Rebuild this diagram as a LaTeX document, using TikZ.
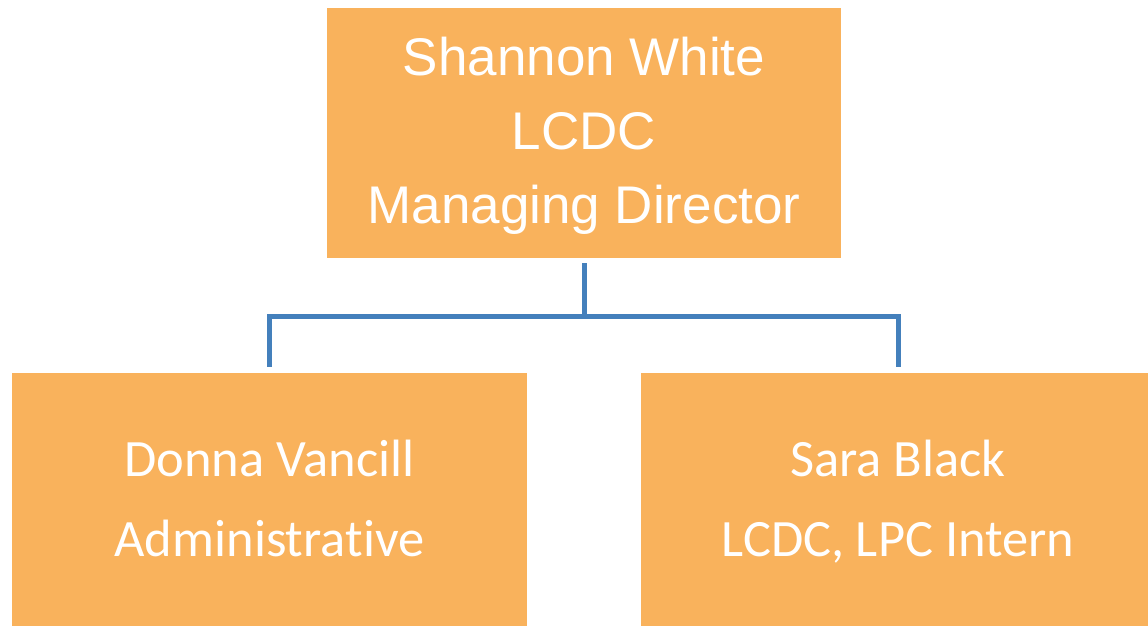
\documentclass[tikz,border=0pt]{standalone}
\usepackage{fontspec}
\setmainfont{Liberation Sans}
\newfontfamily\calib[Ligatures=NoCommon,RawFeature=-liga]{Carlito}
\definecolor{boxorange}{RGB}{249,178,92}
\definecolor{linkblue}{RGB}{68,128,188}
\tikzset{
  orgbox/.style={fill=boxorange, draw=none, text=white, align=center, inner sep=0pt},
  topbox/.style={orgbox, minimum width=514pt, minimum height=250pt, font=\fontsize{53}{74}\selectfont},
  lowbox/.style={orgbox, minimum width=515pt, minimum height=254pt, font=\calib\fontsize{52.5}{80}\selectfont},
  conn/.style={draw=linkblue, line width=5pt}
}
\begin{document}
\begin{tikzpicture}[x=1pt,y=-1pt]
\useasboundingbox (0,0) rectangle (1148,625);
\clip (0,0) rectangle (1148,625);
\fill[white] (0,0) rectangle (1148,625);
\node[orgbox, minimum width=514pt, minimum height=250pt] (top) at (584,133) {};
\node[topbox, fill=none, minimum height=0pt, minimum width=0pt] (toptext) at (584,135) {\strut Shannon White\\\strut LCDC\\\strut Managing Director};
\node[orgbox, minimum width=515pt, minimum height=254pt] (L) at (269.5,500) {};
\node[lowbox, fill=none, minimum height=0pt, minimum width=0pt] (Ltext) at (269.5,500) {\strut Donna Vancill\\\strut Administrative};
\node[orgbox, minimum width=515pt, minimum height=254pt] (R) at (898,500) {};
\node[lowbox, fill=none, minimum height=0pt, minimum width=0pt] (Rtext) at (898,500) {\strut Sara Black\\\strut LCDC, LPC Intern};
\coordinate (j) at (584,316);
\draw[conn] ([yshift=-5pt]top.south) -- (j);
\draw[conn] ([yshift=6pt]L.north) |- (j) -| ([yshift=6pt]R.north);
\end{tikzpicture}
\end{document}
